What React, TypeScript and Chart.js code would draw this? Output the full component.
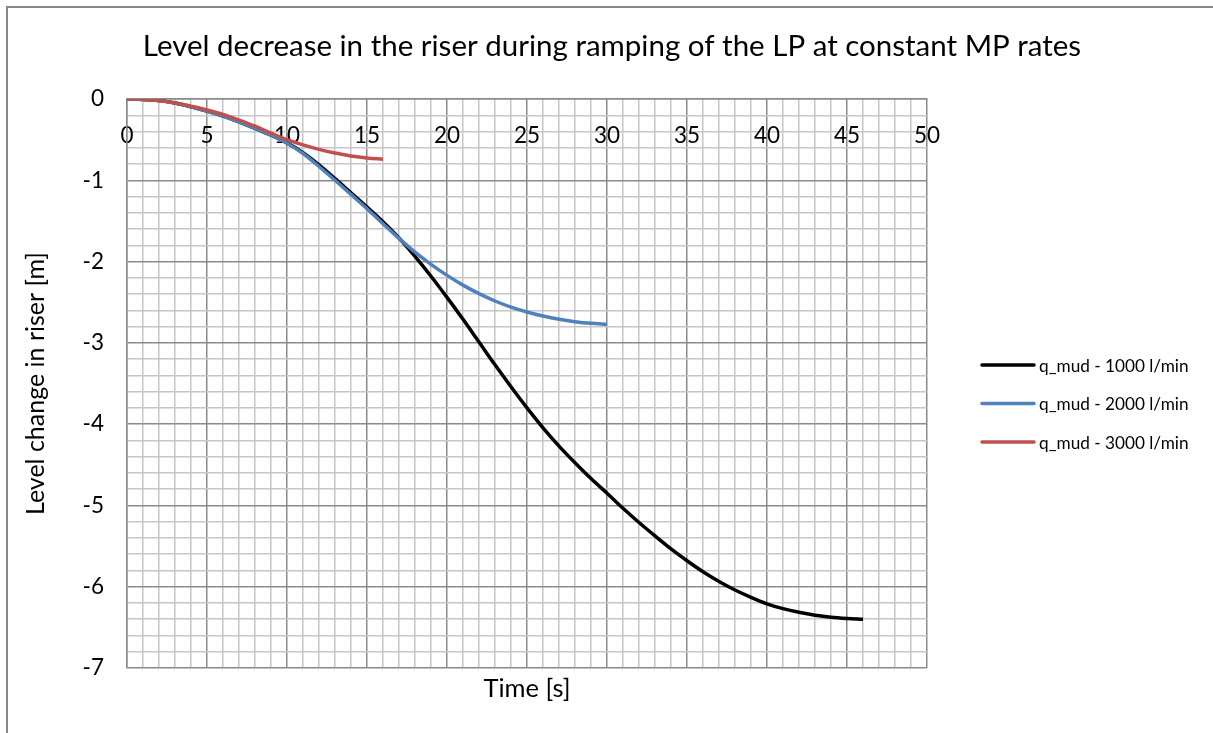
import React, { useEffect, useRef } from "react";
import { Chart, registerables } from "chart.js";

Chart.register(...registerables);

// ---------- data ----------
const chartTitle = "Level decrease in the riser during ramping of the LP at constant MP rates";
const xAxisTitle = "Time [s]";
const yAxisTitle = "Level change in riser [m]";

const seriesNames = ["q_mud - 1000 l/min", "q_mud - 2000 l/min", "q_mud - 3000 l/min"];
const seriesColors = ["#000000", "#4F81BD", "#C0504D"];

const time1000 = [0, 1, 2, 3, 4, 5, 6, 7, 8, 9, 10, 11, 12, 13, 14, 15, 16, 17, 18, 19, 20, 21, 22, 23, 24, 25, 26, 27, 28, 29, 30, 31, 32, 33, 34, 35, 36, 37, 38, 39, 40, 41, 42, 43, 44, 45, 46];
const level1000 = [0, -0.005, -0.02, -0.05, -0.095, -0.15, -0.21, -0.28, -0.36, -0.445, -0.54, -0.66, -0.81, -0.98, -1.155, -1.33, -1.51, -1.71, -1.935, -2.18, -2.44, -2.71, -2.99, -3.27, -3.54, -3.8, -4.045, -4.27, -4.475, -4.67, -4.85, -5.035, -5.21, -5.375, -5.535, -5.68, -5.815, -5.935, -6.04, -6.13, -6.21, -6.27, -6.315, -6.35, -6.375, -6.39, -6.4];

const time2000 = [0, 1, 2, 3, 4, 5, 6, 7, 8, 9, 10, 11, 12, 13, 14, 15, 16, 17, 18, 19, 20, 21, 22, 23, 24, 25, 26, 27, 28, 29, 30];
const level2000 = [0, -0.005, -0.02, -0.05, -0.095, -0.15, -0.21, -0.28, -0.36, -0.445, -0.545, -0.67, -0.83, -1.0, -1.175, -1.35, -1.535, -1.715, -1.885, -2.035, -2.17, -2.29, -2.395, -2.485, -2.56, -2.62, -2.67, -2.71, -2.74, -2.76, -2.77];

const time3000 = [0, 1, 2, 3, 4, 5, 6, 7, 8, 9, 10, 11, 12, 13, 14, 15, 16];
const level3000 = [0, -0.005, -0.02, -0.05, -0.09, -0.135, -0.19, -0.26, -0.335, -0.42, -0.5, -0.565, -0.62, -0.665, -0.7, -0.725, -0.74];

const xMin = 0;
const xMax = 50;
const xMinorStep = 1;
const xMajorEvery = 5;
const yMin = -7;
const yMax = 0;
const yMinorStep = 0.2;
const yMajorEvery = 1;

// ---------- styles ----------
const FONT = "Lato, 'Open Sans', sans-serif";
const MAJOR_GRID = "#8A8A8A";
const MINOR_GRID = "#C6C6C6";

const isMultiple = (v: number, m: number) => Math.abs(v / m - Math.round(v / m)) < 1e-6;

const framePlugin = {
  id: "frame",
  beforeDraw(chart: any) {
    const ctx = chart.ctx;
    ctx.save();
    ctx.fillStyle = "#ffffff";
    ctx.fillRect(0, 0, chart.width, chart.height);
    ctx.strokeStyle = "#878787";
    ctx.lineWidth = 2;
    ctx.beginPath();
    ctx.moveTo(7, chart.height + 5);
    ctx.lineTo(7, 7);
    ctx.lineTo(chart.width + 5, 7);
    ctx.stroke();
    ctx.restore();
  },
};

const titlePlugin = {
  id: "centeredTitle",
  afterDraw(chart: any) {
    const ctx = chart.ctx;
    ctx.save();
    ctx.font = `29.5px ${FONT}`;
    ctx.fillStyle = "#000000";
    ctx.textAlign = "center";
    ctx.textBaseline = "alphabetic";
    ctx.fillText(chartTitle, 612, 56);
    ctx.restore();
  },
};

const legendPlugin = {
  id: "customLegend",
  afterDraw(chart: any) {
    const ctx = chart.ctx;
    const area = chart.chartArea;
    const x0 = area.right + 55;
    const lineLen = 52;
    const startY = 365;
    const gap = 38.5;
    ctx.save();
    ctx.font = `17.2px ${FONT}`;
    ctx.textBaseline = "middle";
    ctx.textAlign = "left";
    chart.data.datasets.forEach((ds: any, i: number) => {
      const y = startY + i * gap;
      ctx.strokeStyle = ds.borderColor;
      ctx.lineWidth = 3.5;
      ctx.lineCap = "round";
      ctx.beginPath();
      ctx.moveTo(x0, y);
      ctx.lineTo(x0 + lineLen, y);
      ctx.stroke();
      ctx.fillStyle = "#000000";
      ctx.fillText(ds.label, x0 + lineLen + 5, y + 1);
    });
    ctx.restore();
  },
};

const toPoints = (xs: number[], ys: number[]) => xs.map((x, i) => ({ x, y: ys[i] }));

export default function App() {
  const canvasRef = useRef<HTMLCanvasElement | null>(null);

  useEffect(() => {
    const canvas = canvasRef.current;
    if (!canvas) return;
    const gridColor = (ctx: any, every: number) =>
      ctx.tick && isMultiple(Number(ctx.tick.value), every) ? MAJOR_GRID : MINOR_GRID;

    const chart = new Chart(canvas, {
      type: "line",
      data: {
        datasets: [
          { label: seriesNames[0], data: toPoints(time1000, level1000), borderColor: seriesColors[0], backgroundColor: seriesColors[0], order: 3 },
          { label: seriesNames[1], data: toPoints(time2000, level2000), borderColor: seriesColors[1], backgroundColor: seriesColors[1], order: 2 },
          { label: seriesNames[2], data: toPoints(time3000, level3000), borderColor: seriesColors[2], backgroundColor: seriesColors[2], order: 1 },
        ].map((d) => ({
          ...d,
          borderWidth: 3.5,
          pointRadius: 0,
          pointHoverRadius: 0,
          cubicInterpolationMode: "monotone" as const,
          fill: false,
        })),
      },
      options: {
        animation: false,
        responsive: false,
        events: [],
        layout: { padding: { left: 0, top: 99, right: 286, bottom: 0 } },
        plugins: {
          legend: { display: false },
          tooltip: { enabled: false },
          title: { display: false },
        },
        scales: {
          x: {
            type: "linear",
            position: { y: 0 } as any,
            min: xMin,
            max: xMax,
            grid: {
              drawTicks: false,
              color: (ctx: any) => gridColor(ctx, xMajorEvery),
              lineWidth: 1.5,
            },
            border: { display: true, color: MAJOR_GRID, width: 1.5 },
            ticks: {
              stepSize: xMinorStep,
              autoSkip: false,
              maxRotation: 0,
              padding: 23,
              color: "#000000",
              font: { family: FONT, size: 22.5 },
              callback: (v: any) => (isMultiple(Number(v), xMajorEvery) ? String(Math.round(Number(v))) : ""),
            },
          },
          x2: {
            type: "linear",
            position: "bottom",
            min: xMin,
            max: xMax,
            grid: { display: false, drawTicks: false },
            border: { display: false },
            ticks: { display: false },
            title: {
              display: true,
              text: xAxisTitle,
              color: "#000000",
              font: { family: FONT, size: 25.5 },
              padding: { top: 5, bottom: 29 },
            },
            afterFit: (scale: any) => {
              scale.height = 65;
            },
          },
          y: {
            type: "linear",
            position: "left",
            min: yMin,
            max: yMax,
            grid: {
              drawTicks: false,
              color: (ctx: any) => gridColor(ctx, yMajorEvery),
              lineWidth: 1.5,
            },
            border: { display: true, color: MAJOR_GRID, width: 1.5 },
            ticks: {
              stepSize: yMinorStep,
              autoSkip: false,
              padding: 23,
              color: "#000000",
              font: { family: FONT, size: 22.5 },
              callback: (v: any) => (isMultiple(Number(v), yMajorEvery) ? String(Math.round(Number(v)) || 0) : ""),
            },
            title: {
              display: true,
              text: yAxisTitle,
              color: "#000000",
              font: { family: FONT, size: 25 },
              padding: { top: 21, bottom: 0 },
            },
            afterFit: (scale: any) => {
              scale.width = 127;
            },
          },
        },
      },
      plugins: [framePlugin, titlePlugin, legendPlugin],
    });
    return () => chart.destroy();
  }, []);

  return (
    <div style={{ position: "absolute", left: 0, top: 0, width: 1213, height: 733 }}>
      <canvas ref={canvasRef} width={1213} height={733} style={{ display: "block" }} />
    </div>
  );
}
